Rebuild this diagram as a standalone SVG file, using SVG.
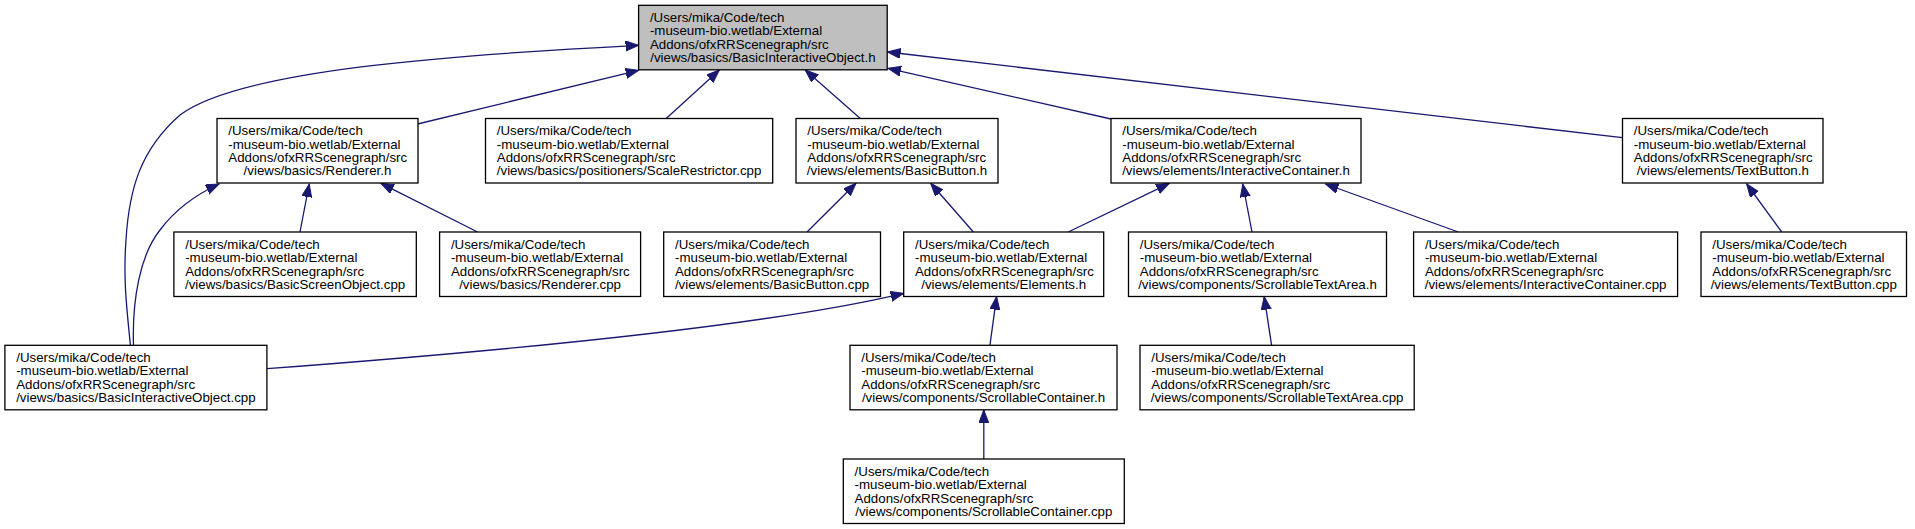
<svg xmlns="http://www.w3.org/2000/svg" width="1915" height="529" viewBox="0 0 1915 529">
<style>
rect.n{fill:#ffffff;stroke:#000000;stroke-width:1.3}
rect.root{fill:#bfbfbf}
text{font-family:"Liberation Sans",Arial,Helvetica,sans-serif;font-size:13.3px;fill:#000000}
.m{text-anchor:middle}
#edges path{fill:none;stroke:#191970;stroke-width:1.3;marker-end:url(#ah)}
</style>
<defs>
<marker id="ah" markerUnits="userSpaceOnUse" markerWidth="14" markerHeight="11" refX="13" refY="5" orient="auto">
<path d="M0,0 L13,5 L0,10 z" fill="#191970" stroke="#191970" stroke-width="1"/>
</marker>
</defs>
<rect width="1915" height="529" fill="#ffffff"/>
<g id="edges">
<path d="M417.6,124 L638.6,70.3"/>
<path d="M666.2,118.5 L719.4,70"/>
<path d="M860.3,118.5 L805.2,70"/>
<path d="M1111,119 L888,68.3"/>
<path d="M1622.4,137.7 L887.5,52"/>
<path d="M130.4,345.3 C127,310 123,280 126,240 C129,190 140,150 180,115 C240,70 450,55 638.6,45.3"/>
<path d="M300,232 L309.2,184"/>
<path d="M477.6,232 L381,183.3"/>
<path d="M133.5,345.3 C132,300 140,255 160,230 C175,210 195,195 219,184"/>
<path d="M807,232 L856,183.3"/>
<path d="M973.4,232 L930.7,183.3"/>
<path d="M1068.3,232 L1169.3,183.3"/>
<path d="M1252,232 L1242.8,184"/>
<path d="M1458.3,232 L1325.5,184"/>
<path d="M1781.7,232 L1746.7,184"/>
<path d="M267,368.7 C450,355 750,330 903.7,293.3"/>
<path d="M989.9,345.3 L996.6,296.7"/>
<path d="M1271.6,345.3 L1264.2,296.7"/>
<path d="M983.8,459 L983.8,410"/>
</g>
<g id="node_BasicInteractiveObject_h">
<rect class="n root" x="638.6" y="5.3" width="248.6" height="64.5"/>
<text x="649.9" y="22">/Users/mika/Code/tech</text>
<text x="649.9" y="35.4">-museum-bio.wetlab/External</text>
<text x="649.9" y="48.8">Addons/ofxRRScenegraph/src</text>
<text class="m" x="762.9" y="62.2">/views/basics/BasicInteractiveObject.h</text>
</g>
<g id="node_Renderer_h">
<rect class="n" x="217" y="118.5" width="201" height="64.5"/>
<text x="228.3" y="135.2">/Users/mika/Code/tech</text>
<text x="228.3" y="148.6">-museum-bio.wetlab/External</text>
<text x="228.3" y="162">Addons/ofxRRScenegraph/src</text>
<text class="m" x="317.5" y="175.4">/views/basics/Renderer.h</text>
</g>
<g id="node_ScaleRestrictor_cpp">
<rect class="n" x="485.5" y="118.5" width="287.2" height="64.5"/>
<text x="496.8" y="135.2">/Users/mika/Code/tech</text>
<text x="496.8" y="148.6">-museum-bio.wetlab/External</text>
<text x="496.8" y="162">Addons/ofxRRScenegraph/src</text>
<text class="m" x="629.1" y="175.4">/views/basics/positioners/ScaleRestrictor.cpp</text>
</g>
<g id="node_BasicButton_h">
<rect class="n" x="796" y="118.5" width="202" height="64.5"/>
<text x="807.3" y="135.2">/Users/mika/Code/tech</text>
<text x="807.3" y="148.6">-museum-bio.wetlab/External</text>
<text x="807.3" y="162">Addons/ofxRRScenegraph/src</text>
<text class="m" x="897" y="175.4">/views/elements/BasicButton.h</text>
</g>
<g id="node_InteractiveContainer_h">
<rect class="n" x="1111" y="118.5" width="250" height="64.5"/>
<text x="1122.3" y="135.2">/Users/mika/Code/tech</text>
<text x="1122.3" y="148.6">-museum-bio.wetlab/External</text>
<text x="1122.3" y="162">Addons/ofxRRScenegraph/src</text>
<text class="m" x="1236" y="175.4">/views/elements/InteractiveContainer.h</text>
</g>
<g id="node_TextButton_h">
<rect class="n" x="1622.5" y="118.5" width="200.5" height="64.5"/>
<text x="1633.8" y="135.2">/Users/mika/Code/tech</text>
<text x="1633.8" y="148.6">-museum-bio.wetlab/External</text>
<text x="1633.8" y="162">Addons/ofxRRScenegraph/src</text>
<text class="m" x="1722.75" y="175.4">/views/elements/TextButton.h</text>
</g>
<g id="node_BasicScreenObject_cpp">
<rect class="n" x="173.9" y="232" width="242.4" height="64.5"/>
<text x="185.2" y="248.7">/Users/mika/Code/tech</text>
<text x="185.2" y="262.1">-museum-bio.wetlab/External</text>
<text x="185.2" y="275.5">Addons/ofxRRScenegraph/src</text>
<text class="m" x="295.1" y="288.9">/views/basics/BasicScreenObject.cpp</text>
</g>
<g id="node_Renderer_cpp">
<rect class="n" x="439.6" y="232" width="201" height="64.5"/>
<text x="450.9" y="248.7">/Users/mika/Code/tech</text>
<text x="450.9" y="262.1">-museum-bio.wetlab/External</text>
<text x="450.9" y="275.5">Addons/ofxRRScenegraph/src</text>
<text class="m" x="540.1" y="288.9">/views/basics/Renderer.cpp</text>
</g>
<g id="node_BasicButton_cpp">
<rect class="n" x="663.7" y="232" width="216.8" height="64.5"/>
<text x="675" y="248.7">/Users/mika/Code/tech</text>
<text x="675" y="262.1">-museum-bio.wetlab/External</text>
<text x="675" y="275.5">Addons/ofxRRScenegraph/src</text>
<text class="m" x="772.1" y="288.9">/views/elements/BasicButton.cpp</text>
</g>
<g id="node_Elements_h">
<rect class="n" x="903.7" y="232" width="200" height="64.5"/>
<text x="915" y="248.7">/Users/mika/Code/tech</text>
<text x="915" y="262.1">-museum-bio.wetlab/External</text>
<text x="915" y="275.5">Addons/ofxRRScenegraph/src</text>
<text class="m" x="1003.7" y="288.9">/views/elements/Elements.h</text>
</g>
<g id="node_ScrollableTextArea_h">
<rect class="n" x="1128.5" y="232" width="258" height="64.5"/>
<text x="1139.8" y="248.7">/Users/mika/Code/tech</text>
<text x="1139.8" y="262.1">-museum-bio.wetlab/External</text>
<text x="1139.8" y="275.5">Addons/ofxRRScenegraph/src</text>
<text class="m" x="1257.5" y="288.9">/views/components/ScrollableTextArea.h</text>
</g>
<g id="node_InteractiveContainer_cpp">
<rect class="n" x="1413.6" y="232" width="264" height="64.5"/>
<text x="1424.9" y="248.7">/Users/mika/Code/tech</text>
<text x="1424.9" y="262.1">-museum-bio.wetlab/External</text>
<text x="1424.9" y="275.5">Addons/ofxRRScenegraph/src</text>
<text class="m" x="1545.6" y="288.9">/views/elements/InteractiveContainer.cpp</text>
</g>
<g id="node_TextButton_cpp">
<rect class="n" x="1701" y="232" width="205.5" height="64.5"/>
<text x="1712.3" y="248.7">/Users/mika/Code/tech</text>
<text x="1712.3" y="262.1">-museum-bio.wetlab/External</text>
<text x="1712.3" y="275.5">Addons/ofxRRScenegraph/src</text>
<text class="m" x="1803.75" y="288.9">/views/elements/TextButton.cpp</text>
</g>
<g id="node_BasicInteractiveObject_cpp">
<rect class="n" x="4.9" y="345.3" width="262" height="64.5"/>
<text x="16.2" y="362">/Users/mika/Code/tech</text>
<text x="16.2" y="375.4">-museum-bio.wetlab/External</text>
<text x="16.2" y="388.8">Addons/ofxRRScenegraph/src</text>
<text class="m" x="135.9" y="402.2">/views/basics/BasicInteractiveObject.cpp</text>
</g>
<g id="node_ScrollableContainer_h">
<rect class="n" x="850" y="345.3" width="267" height="64.5"/>
<text x="861.3" y="362">/Users/mika/Code/tech</text>
<text x="861.3" y="375.4">-museum-bio.wetlab/External</text>
<text x="861.3" y="388.8">Addons/ofxRRScenegraph/src</text>
<text class="m" x="983.5" y="402.2">/views/components/ScrollableContainer.h</text>
</g>
<g id="node_ScrollableTextArea_cpp">
<rect class="n" x="1140" y="345.3" width="274.2" height="64.5"/>
<text x="1151.3" y="362">/Users/mika/Code/tech</text>
<text x="1151.3" y="375.4">-museum-bio.wetlab/External</text>
<text x="1151.3" y="388.8">Addons/ofxRRScenegraph/src</text>
<text class="m" x="1277.1" y="402.2">/views/components/ScrollableTextArea.cpp</text>
</g>
<g id="node_ScrollableContainer_cpp">
<rect class="n" x="843.3" y="459" width="281" height="64.5"/>
<text x="854.6" y="475.7">/Users/mika/Code/tech</text>
<text x="854.6" y="489.1">-museum-bio.wetlab/External</text>
<text x="854.6" y="502.5">Addons/ofxRRScenegraph/src</text>
<text class="m" x="983.8" y="515.9">/views/components/ScrollableContainer.cpp</text>
</g>
</svg>
